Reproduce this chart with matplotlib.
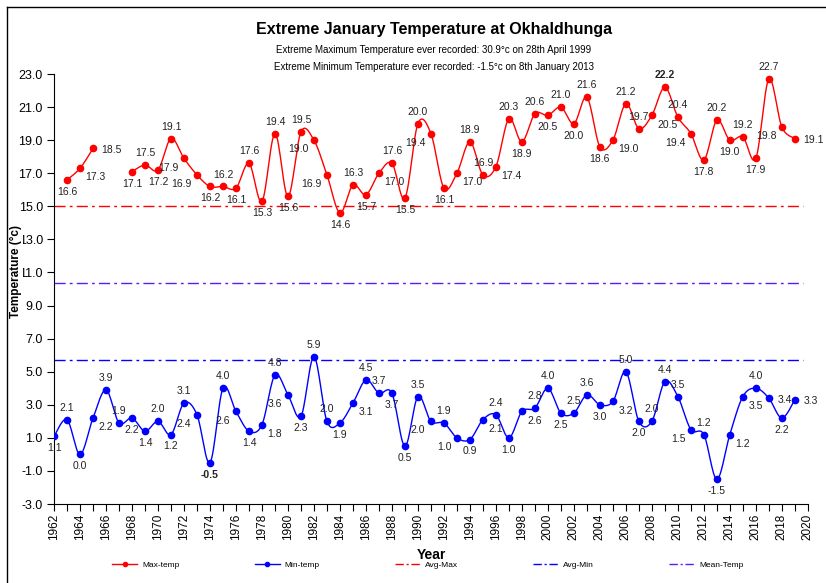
import numpy as np
import matplotlib
matplotlib.use("Agg")
import matplotlib.pyplot as plt
from matplotlib.lines import Line2D
from matplotlib.ticker import MultipleLocator, FixedLocator, FormatStrFormatter

plt.rcParams['font.family'] = ['Liberation Sans', 'DejaVu Sans']

# ---------------- data ----------------
years = list(range(1962, 2020))

max_temp = [np.nan, 16.6, 17.3, 18.5, np.nan, np.nan, 17.1, 17.5, 17.2, 19.1,
            17.9, 16.9, 16.2, 16.2, 16.1, 17.6, 15.3, 19.4, 15.6, 19.5,
            19.0, 16.9, 14.6, 16.3, 15.7, 17.0, 17.6, 15.5, 20.0, 19.4,
            16.1, 17.0, 18.9, 16.9, 17.4, 20.3, 18.9, 20.6, 20.5, 21.0,
            20.0, 21.6, 18.6, 19.0, 21.2, 19.7, 20.5, 22.2, 20.4, 19.4,
            17.8, 20.2, 19.0, 19.2, 17.9, 22.7, 19.8, 19.1]

min_temp = [1.1, 2.1, 0.0, 2.2, 3.9, 1.9, 2.2, 1.4, 2.0, 1.2,
            3.1, 2.4, -0.5, 4.0, 2.6, 1.4, 1.8, 4.8, 3.6, 2.3,
            5.9, 2.0, 1.9, 3.1, 4.5, 3.7, 3.7, 0.5, 3.5, 2.0,
            1.9, 1.0, 0.9, 2.1, 2.4, 1.0, 2.6, 2.8, 4.0, 2.5,
            2.5, 3.6, 3.0, 3.2, 5.0, 2.0, 2.0, 4.4, 3.5, 1.5,
            1.2, -1.5, 1.2, 3.5, 4.0, 3.4, 2.2, 3.3]

avg_max = 15.0
avg_min = 5.7
mean_temp = 10.35

bold_max_year = 2009
bold_min_year = 1974

y_ticks = [-3, -1, 1, 3, 5, 7, 9, 11, 13, 15, 17, 19, 21, 23]

title = "Extreme January Temperature at Okhaldhunga"
sub1 = "Extreme Maximum Temperature ever recorded: 30.9°c on 28th April 1999"
sub2 = "Extreme Minimum Temperature ever recorded: -1.5°c on 8th January 2013"

# label spots (offset in points, ha, va)
ABOVE = ((0, 5), 'center', 'bottom')
BELOW = ((0, -5), 'center', 'top')
RIGHT = ((6, -1), 'left', 'center')
LEFT = ((-6, -1), 'right', 'center')
LO_RIGHT = ((4, -3), 'left', 'top')
LO_LEFT = ((-4, -3), 'right', 'top')
UP_RIGHT = ((4, 3), 'left', 'bottom')
UP_LEFT = ((-4, 3), 'right', 'bottom')


# Excel style smooth line (bezier through the points)
def smooth(x, y, n=16):
    xs, ys = [], []
    k = len(x)
    for i in range(k - 1):
        a = i - 1 if i > 0 else i
        b = i + 2 if i + 2 < k else i + 1
        c1x = x[i] + (x[i + 1] - x[a]) / 6
        c1y = y[i] + (y[i + 1] - y[a]) / 6
        c2x = x[i + 1] - (x[b] - x[i]) / 6
        c2y = y[i + 1] - (y[b] - y[i]) / 6
        t = np.linspace(0, 1, n)
        u = 1 - t
        xs.extend(u**3 * x[i] + 3 * u**2 * t * c1x + 3 * u * t**2 * c2x + t**3 * x[i + 1])
        ys.extend(u**3 * y[i] + 3 * u**2 * t * c1y + 3 * u * t**2 * c2y + t**3 * y[i + 1])
    return xs, ys


def runs(x, y):
    out, cx, cy = [], [], []
    for a, b in zip(x, y):
        if np.isnan(b):
            if cx:
                out.append((cx, cy))
            cx, cy = [], []
        else:
            cx.append(a)
            cy.append(b)
    if cx:
        out.append((cx, cy))
    return out


def label_spots(ry, i):
    b = ry[i]
    if i == 0:
        first = BELOW if ry[1] > b else ABOVE
    elif i == len(ry) - 1:
        first = RIGHT
    else:
        p, q = ry[i - 1], ry[i + 1]
        if b >= p and b >= q:
            first = ABOVE
        elif b <= p and b <= q:
            first = BELOW
        elif p < b < q:
            first = LO_RIGHT
        else:
            first = LO_LEFT
    rest = [ABOVE, BELOW, RIGHT, LEFT, LO_RIGHT, UP_RIGHT, LO_LEFT, UP_LEFT]
    return [first] + [s for s in rest if s != first]


def draw_series(ax, x, y, color, bold_year, items):
    for rx, ry in runs(x, y):
        if len(rx) > 1:
            sx, sy = smooth(rx, ry)
            ax.plot(sx, sy, color=color, lw=1.0, zorder=3)
        ax.plot(rx, ry, 'o', color=color, ms=4.5, zorder=4)
        for i, (a, b) in enumerate(zip(rx, ry)):
            items.append((a, b, a == bold_year, label_spots(ry, i)))


fig = plt.figure(figsize=(8.26, 5.83), dpi=100)
ax = fig.add_axes([0.0654, 0.1355, 0.9126, 0.7375])

items = []
draw_series(ax, years, max_temp, 'red', bold_max_year, items)
draw_series(ax, years, min_temp, 'blue', bold_min_year, items)

x_end = years[-1] + 0.6
dash = (0, (8, 3, 2, 3))
ax.hlines(avg_max, years[0], x_end, colors='red', linestyles=dash, lw=1.0)
ax.hlines(avg_min, years[0], x_end, colors='blue', linestyles=dash, lw=1.0)
ax.hlines(mean_temp, years[0], x_end, colors='#5a1aff', linestyles=dash, lw=1.0)

ax.set_xlim(1962, 2020)
ax.set_ylim(-3, 23)
ax.xaxis.set_major_locator(MultipleLocator(2))
ax.xaxis.set_minor_locator(MultipleLocator(1))
ax.yaxis.set_major_locator(FixedLocator(y_ticks))
ax.yaxis.set_major_formatter(FormatStrFormatter('%.1f'))
ax.tick_params(axis='x', which='both', direction='out', length=5, width=0.8,
               labelrotation=90, labelsize=8.5, pad=2)
ax.tick_params(axis='y', direction='out', length=5, width=0.8, labelsize=9, pad=3)
for s in ['top', 'right']:
    ax.spines[s].set_visible(False)
ax.spines['left'].set_linewidth(0.8)
ax.spines['bottom'].set_linewidth(0.8)

# data labels, moved to a free spot when they would overlap an earlier one
fig.canvas.draw()
renderer = fig.canvas.get_renderer()
placed = []
for a, b, bold, spots in items:
    t = ax.annotate(f"{b:.1f}", (a, b), xytext=spots[0][0], textcoords='offset points',
                    ha=spots[0][1], va=spots[0][2], fontsize=7.5, color='#222222',
                    fontweight='bold' if bold else 'normal', zorder=5)
    chosen = None
    for off, ha, va in spots:
        t.xyann = off
        t.set_ha(ha)
        t.set_va(va)
        bb = t.get_window_extent(renderer)
        if not any(bb.overlaps(p) for p in placed):
            chosen = bb
            break
    if chosen is None:
        t.xyann = spots[0][0]
        t.set_ha(spots[0][1])
        t.set_va(spots[0][2])
        chosen = t.get_window_extent(renderer)
    placed.append(chosen)

ax.set_xlabel("Year", fontsize=10, fontweight='bold')
ax.xaxis.set_label_coords(0.501, -0.102)
ax.set_ylabel("Temperature (°c)", fontsize=8.5, fontweight='bold',
              bbox=dict(facecolor='white', edgecolor='none', pad=0.5))
ax.yaxis.set_label_coords(-0.042, 0.54)

fig.text(0.525, 0.949, title, ha='center', va='center', fontsize=11.5, fontweight='bold')
fig.text(0.525, 0.914, sub1, ha='center', va='center', fontsize=7)
fig.text(0.525, 0.885, sub2, ha='center', va='center', fontsize=7)

handles = [
    Line2D([], [], color='red', lw=1.0, marker='o', ms=3),
    Line2D([], [], color='blue', lw=1.0, marker='o', ms=3),
    Line2D([], [], color='red', lw=1.0, ls=(0, (6, 2, 1.5, 2))),
    Line2D([], [], color='blue', lw=1.0, ls=(0, (6, 2, 1.5, 2))),
    Line2D([], [], color='#5a1aff', lw=1.0, ls=(0, (6, 2, 1.5, 2))),
]
labels = ["Max-temp", "Min-temp", "Avg-Max", "Avg-Min", "Mean-Temp"]
fig.legend(handles, labels, loc='center', bbox_to_anchor=(0.518, 0.031), ncol=5,
           frameon=False, fontsize=6, handlelength=3, handletextpad=0.6,
           columnspacing=9.0)

# frame of the chart area
fig.add_artist(Line2D([7 / 826, 1], [1 - 7 / 583, 1 - 7 / 583], transform=fig.transFigure,
                      color='black', lw=1.0))
fig.add_artist(Line2D([7 / 826, 7 / 826], [0, 1 - 7 / 583], transform=fig.transFigure,
                      color='black', lw=1.0))

fig.savefig("out.png", dpi=100)
